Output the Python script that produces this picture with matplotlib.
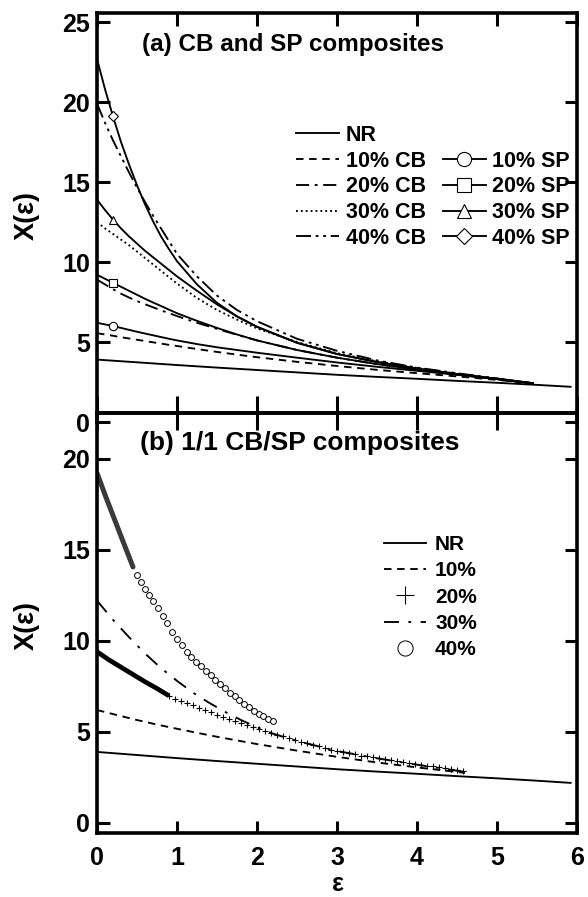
import matplotlib
matplotlib.use("Agg")
import matplotlib.pyplot as plt
from matplotlib.lines import Line2D

plt.rcParams['font.family'] = ['Liberation Sans', 'DejaVu Sans']
plt.rcParams['font.weight'] = 'bold'

# ---------------- panel (a) data ----------------
x_a = [0, 0.1, 0.2, 0.3, 0.4, 0.5, 0.6, 0.7, 0.8, 0.9, 1.0, 1.25, 1.5, 1.75, 2.0,
       2.5, 3.0, 3.5, 4.0, 4.5, 5.0, 5.45]
cb10 = [5.55, 5.47, 5.39, 5.30, 5.22, 5.14, 5.06, 4.98, 4.90, 4.82, 4.75, 4.56, 4.38, 4.21, 4.05,
        3.76, 3.50, 3.26, 3.05, 2.85, 2.63, 2.42]
cb20 = [8.90, 8.60, 8.30, 8.02, 7.78, 7.56, 7.36, 7.17, 6.98, 6.80, 6.62, 6.20, 5.82, 5.45, 5.10,
        4.50, 4.02, 3.62, 3.27, 2.97, 2.68, 2.42]
cb30 = [12.5, 12.1, 11.75, 11.4, 11.05, 10.65, 10.25, 9.85, 9.45, 9.05, 8.65, 7.75, 7.00, 6.40, 5.85,
        5.00, 4.30, 3.80, 3.38, 3.02, 2.72, 2.42]
cb40 = [19.9, 18.7, 17.6, 16.6, 15.6, 14.65, 13.75, 12.9, 12.1, 11.3, 10.5, 9.10, 7.90, 7.00, 6.30,
        5.20, 4.45, 3.85, 3.40, 3.05, 2.72, 2.42]
sp10 = [6.20, 6.10, 6.00, 5.88, 5.76, 5.64, 5.53, 5.42, 5.31, 5.20, 5.10, 4.87, 4.67, 4.50, 4.33,
        4.02, 3.72, 3.45, 3.20, 2.95, 2.68, 2.42]
sp20 = [9.20, 8.95, 8.70, 8.45, 8.20, 7.95, 7.70, 7.47, 7.25, 7.02, 6.80, 6.32, 5.88, 5.47, 5.10,
        4.50, 4.02, 3.62, 3.27, 2.97, 2.68, 2.42]
sp30 = [13.9, 13.25, 12.65, 12.1, 11.6, 11.15, 10.7, 10.3, 9.90, 9.50, 9.10, 8.20, 7.35, 6.60, 5.95,
        4.95, 4.25, 3.75, 3.33, 3.00, 2.70, 2.42]
sp40 = [22.7, 20.8, 19.1, 17.5, 16.1, 14.8, 13.6, 12.55, 11.6, 10.8, 10.05, 8.60, 7.45, 6.60, 5.95,
        4.95, 4.25, 3.75, 3.35, 3.00, 2.70, 2.42]

x_nr = [0, 0.5, 1.0, 1.5, 2.0, 2.5, 3.0, 3.5, 4.0, 4.5, 5.0, 5.5, 5.92]
nr = [3.90, 3.73, 3.56, 3.40, 3.25, 3.10, 2.95, 2.82, 2.70, 2.57, 2.45, 2.32, 2.20]

# ---------------- panel (b) data ----------------
x_b10 = [0, 0.25, 0.5, 0.75, 1.0, 1.5, 2.0, 2.5, 3.0, 3.5, 4.0, 4.6]
b10 = [6.20, 5.92, 5.65, 5.40, 5.17, 4.73, 4.33, 3.97, 3.63, 3.32, 3.05, 2.75]

x_b30 = [0, 0.2, 0.4, 0.6, 0.8, 1.0, 1.2, 1.4, 1.6, 1.8, 2.0, 2.2, 2.5, 3.0, 3.5, 4.0, 4.6]
b30 = [12.2, 11.15, 10.2, 9.3, 8.5, 7.8, 7.15, 6.6, 6.1, 5.65, 5.25, 4.9, 4.5, 3.95, 3.55, 3.2, 2.8]

x_b20_dense = [0, 0.15, 0.3, 0.45, 0.6, 0.75, 0.9]
b20_dense = [9.40, 8.95, 8.55, 8.15, 7.75, 7.38, 6.98]
x_b20 = [0.900, 0.975, 1.050, 1.125, 1.200, 1.275, 1.350, 1.425, 1.500, 1.575, 1.650, 1.725,
         1.800, 1.875, 1.950, 2.025, 2.100, 2.175, 2.250, 2.325, 2.400, 2.475, 2.550, 2.625,
         2.700, 2.775, 2.850, 2.925, 3.000, 3.075, 3.150, 3.225, 3.300, 3.375, 3.450, 3.525,
         3.600, 3.675, 3.750, 3.825, 3.900, 3.975, 4.050, 4.125, 4.200, 4.275, 4.350, 4.425,
         4.500, 4.575]
b20 = [6.95, 6.83, 6.70, 6.57, 6.45, 6.32, 6.20, 6.07, 5.95, 5.83, 5.72, 5.61,
       5.50, 5.39, 5.28, 5.16, 5.05, 4.95, 4.85, 4.75, 4.65, 4.56, 4.47, 4.39,
       4.30, 4.21, 4.12, 4.03, 3.95, 3.89, 3.82, 3.76, 3.70, 3.65, 3.60, 3.55,
       3.50, 3.45, 3.40, 3.35, 3.30, 3.25, 3.20, 3.15, 3.10, 3.05, 3.00, 2.95,
       2.90, 2.83]

x_b40_dense = [0, 0.11, 0.22, 0.33, 0.45]
b40_dense = [19.2, 17.9, 16.65, 15.4, 14.05]
x_b40 = [0.50, 0.55, 0.60, 0.65, 0.70, 0.76, 0.82, 0.88, 0.94, 1.00, 1.06, 1.12, 1.18, 1.24,
         1.30, 1.36, 1.42, 1.48, 1.54, 1.60, 1.66, 1.72, 1.78, 1.84, 1.90, 1.96, 2.02, 2.08,
         2.14, 2.20]
b40 = [13.60, 13.20, 12.85, 12.50, 12.20, 11.80, 11.35, 10.95, 10.50, 10.10, 9.75, 9.40, 9.10, 8.85,
       8.60, 8.35, 8.10, 7.85, 7.60, 7.40, 7.15, 6.95, 6.75, 6.55, 6.35, 6.15, 6.00, 5.85,
       5.70, 5.58]

xticks = [0, 1, 2, 3, 4, 5, 6]
yticks_a = [0, 5, 10, 15, 20, 25]
yticks_b = [0, 5, 10, 15, 20]

W, H = 588, 897
fig = plt.figure(figsize=(W / 100, H / 100), dpi=100)
ax1 = fig.add_axes([97 / W, 1 - 422 / H, 480 / W, 409 / H])
ax2 = fig.add_axes([97 / W, 1 - 833 / H, 480 / W, 420 / H])
ax2.set_facecolor('none')

LW = 1.35
SPW = 2.6
TICKFS = 18

# ---- panel (a) ----
ax1.plot(x_nr, nr, '-', color='k', lw=LW, label='NR')
ms = 6
ax1.plot(x_a, cb10, color='k', lw=LW, linestyle=(0, (4, 3)), label='10% CB')
ax1.plot(x_a, cb20, color='k', lw=LW, linestyle=(0, (7, 3, 1.5, 3)), label='20% CB')
ax1.plot(x_a, cb30, color='k', lw=LW, linestyle=(0, (1, 1.6)), label='30% CB')
ax1.plot(x_a, cb40, color='k', lw=LW, linestyle=(0, (8, 2.5, 1.5, 2.5, 1.5, 2.5)), label='40% CB')
ax1.plot(x_a, sp10, '-', color='k', lw=LW, marker='o', mfc='white', mec='k', mew=0.8, ms=ms,
         markevery=[2], label='10% SP')
ax1.plot(x_a, sp20, '-', color='k', lw=LW, marker='s', mfc='white', mec='k', mew=0.8, ms=ms,
         markevery=[2], label='20% SP')
ax1.plot(x_a, sp30, '-', color='k', lw=LW, marker='^', mfc='white', mec='k', mew=0.8, ms=ms,
         markevery=[2], label='30% SP')
ax1.plot(x_a, sp40, '-', color='k', lw=LW, marker='D', mfc='white', mec='k', mew=0.8, ms=ms - 1,
         markevery=[2], label='40% SP')

ax1.set_xlim(0, 6)
ax1.set_ylim(0, 409 / 16)
ax1.set_xticks(xticks)
ax1.set_yticks(yticks_a)
ax1.spines['bottom'].set_visible(False)
for s in ['top', 'left', 'right']:
    ax1.spines[s].set_linewidth(SPW)
ax1.tick_params(direction='in', top=True, right=True, bottom=False, labelbottom=False,
                length=9, width=2.2, labelsize=TICKFS, pad=5)

h, l = ax1.get_legend_handles_labels()
blank = Line2D([], [], linestyle='none', marker=None)
order = [h[0], h[1], h[2], h[3], h[4], blank, h[5], h[6], h[7], h[8]]
labs = [l[0], l[1], l[2], l[3], l[4], '', l[5], l[6], l[7], l[8]]
leg1 = ax1.legend(order, labs, ncol=2, loc='upper left', bbox_to_anchor=(296 / W, 1 - 125 / H),
                  bbox_transform=fig.transFigure, frameon=False, fontsize=15.5,
                  handlelength=2.0, handletextpad=0.3, columnspacing=0.8, labelspacing=0.22,
                  borderpad=0, borderaxespad=0, markerscale=1.7)

# ---- panel (b) ----
ax2.plot(x_nr, nr, '-', color='k', lw=LW, label='NR')
ax2.plot(x_b10, b10, color='k', lw=LW, linestyle=(0, (4, 3)), label='10%')
ax2.plot(x_b20_dense, b20_dense, '-', color='k', lw=3.4, solid_capstyle='butt')
p20, = ax2.plot(x_b20, b20, linestyle='none', marker='+', color='k', ms=5, mew=0.8, label='20%')
ax2.plot(x_b30, b30, color='k', lw=LW, linestyle=(0, (8, 5, 1.5, 5)), label='30%')
ax2.plot(x_b40_dense, b40_dense, '-', color='#3a3a3a', lw=3.6, solid_capstyle='round')
ax2.plot(x_b40, b40, linestyle='none', marker='o', mfc='white', mec='k', ms=4.2, mew=0.7,
         label='40%')

ax2.set_xlim(0, 6)
ax2.set_ylim(-0.55, 22.5)
ax2.set_xticks(xticks)
ax2.set_yticks(yticks_b)
for s in ['top', 'bottom', 'left', 'right']:
    ax2.spines[s].set_linewidth(SPW)
ax2.tick_params(direction='in', top=False, right=True, length=9, width=2.2,
                labelsize=TICKFS, pad=5)
ax2.tick_params(axis='x', pad=9)
sec = ax2.secondary_xaxis('top')
sec.set_xticks(xticks)
sec.tick_params(direction='inout', length=24, width=2.2, labeltop=False)
sec.spines['top'].set_linewidth(SPW)

h2, l2 = ax2.get_legend_handles_labels()
leg2 = ax2.legend(h2, l2, loc='upper left', bbox_to_anchor=(384 / W, 1 - 535 / H),
                  bbox_transform=fig.transFigure, frameon=False, fontsize=15,
                  handlelength=2.0, handletextpad=0.45, labelspacing=0.35,
                  borderpad=0, borderaxespad=0, markerscale=2.6)

# ---- texts ----
fig.text(142 / W, 1 - 45 / H, '(a) CB and SP composites', fontsize=17.5, ha='left', va='center')
fig.text(140 / W, 1 - 443 / H, '(b) 1/1 CB/SP composites', fontsize=19, ha='left', va='center')
fig.text(27 / W, 1 - 215 / H, 'X(ε)', fontsize=19.5, rotation=90, ha='center', va='center')
fig.text(27 / W, 1 - 625 / H, 'X(ε)', fontsize=19.5, rotation=90, ha='center', va='center')
fig.text(338 / W, 1 - 884 / H, 'ε', fontsize=18, ha='center', va='center')

fig.savefig('out.png', dpi=100)
